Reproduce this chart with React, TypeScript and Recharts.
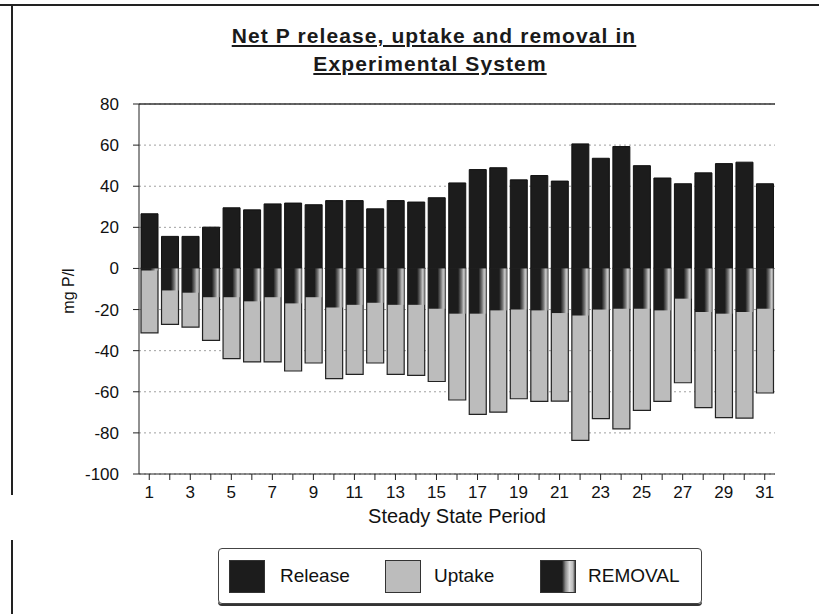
import {
  BarChart,
  Bar,
  XAxis,
  YAxis,
  CartesianGrid,
  ReferenceLine,
} from "recharts";

const periods = [
  "1", "2", "3", "4", "5", "6", "7", "8", "9", "10", "11", "12", "13", "14", "15", "16",
  "17", "18", "19", "20", "21", "22", "23", "24", "25", "26", "27", "28", "29", "30", "31",
];

const release = [
  26.6, 15.6, 15.6, 20.1, 29.5, 28.5, 31.4, 31.8, 31, 33, 33, 29, 33, 32.3, 34.4, 41.6,
  48.1, 49, 43.1, 45.2, 42.5, 60.6, 53.6, 59.3, 50, 44, 41.2, 46.5, 51, 51.7, 41.2,
];

const uptake = [
  -31.3, -27.2, -28.5, -35, -43.9, -45.5, -45.5, -49.9, -46, -53.6, -51.5, -46, -51.5, -52, -55, -64,
  -71, -69.9, -63.4, -64.7, -64.5, -83.6, -73.1, -78, -69, -64.7, -55.6, -67.7, -72.6, -72.8, -60.6,
];

const removal = [
  -1, -10.7, -11.8, -14, -14, -16, -14, -17, -14, -19, -17.7, -16.7, -17.7, -17.7, -19.6, -22,
  -22, -20.4, -20, -20.4, -21.7, -22.9, -20, -19.6, -19.6, -20.4, -14.7, -21.2, -22, -21.2, -19.6,
];

const yTicks = [-100, -80, -60, -40, -20, 0, 20, 40, 60, 80];

const data = periods.map((p, i) => ({
  period: p,
  release: release[i],
  uptake: uptake[i],
  removal: removal[i],
}));

const FONT = "'Liberation Sans', Arial, sans-serif";
const DARK = "#1c1c1c";
const LIGHT = "#bcbcbc";
const REMOVAL_BG = `linear-gradient(to right, ${DARK} 0%, ${DARK} 62%, #8a8a8a 72%, #dcdcdc 84%, #bbb 94%, #444 100%)`;

const legendItems = [
  { label: "Release", bg: DARK, swatchX: 10, textX: 61 },
  { label: "Uptake", bg: LIGHT, swatchX: 166, textX: 215 },
  { label: "REMOVAL", bg: REMOVAL_BG, swatchX: 321, textX: 369 },
];

function ChartLegend() {
  return (
    <div
      style={{
        position: "absolute",
        left: 218,
        top: 548,
        width: 484,
        height: 56,
        border: "1px solid #444",
        borderRadius: 4,
        boxShadow: "0 2px 0 #333",
        boxSizing: "border-box",
        fontFamily: FONT,
        fontSize: 19,
        color: "#111",
      }}
    >
      {legendItems.map((it) => (
        <div key={it.label}>
          <div
            style={{
              position: "absolute",
              left: it.swatchX,
              top: 11,
              width: 36,
              height: 33,
              background: it.bg,
              border: "1px solid #333",
              boxSizing: "border-box",
            }}
          />
          <div style={{ position: "absolute", left: it.textX, top: 15, lineHeight: "24px" }}>
            {it.label}
          </div>
        </div>
      ))}
    </div>
  );
}

export default function App() {
  return (
    <div
      style={{
        position: "absolute",
        left: 0,
        top: 0,
        width: 819,
        height: 614,
        background: "#fff",
        fontFamily: FONT,
      }}
    >
      <div style={{ position: "absolute", left: 0, top: 4, width: 819, height: 2, background: "#222" }} />
      <div style={{ position: "absolute", left: 11, top: 5, width: 2, height: 490, background: "#222" }} />
      <div style={{ position: "absolute", left: 11, top: 540, width: 2, height: 74, background: "#222" }} />
      <div
        style={{
          position: "absolute",
          left: 0,
          top: 22,
          width: 868,
          textAlign: "center",
          fontSize: 21,
          fontWeight: "bold",
          letterSpacing: 1.1,
          lineHeight: "28px",
          textDecoration: "underline",
          color: "#1a1a1a",
        }}
      >
        <div>Net P release, uptake and removal in</div>
        <div style={{ marginLeft: -8 }}>Experimental System</div>
      </div>
      <BarChart
        width={819}
        height={614}
        data={data}
        margin={{ top: 104, right: 44, bottom: 110, left: 49 }}
        barSize={17}
        barGap={-17}
        style={{ position: "absolute", left: 0, top: 0 }}
      >
        <defs>
          <linearGradient id="removalFill" x1="0" y1="0" x2="1" y2="0">
            <stop offset="0%" stopColor={DARK} />
            <stop offset="55%" stopColor={DARK} />
            <stop offset="75%" stopColor="#777" />
            <stop offset="88%" stopColor="#c8c8c8" />
            <stop offset="100%" stopColor="#888" />
          </linearGradient>
        </defs>
        <CartesianGrid vertical={false} stroke="#a0a0a0" strokeDasharray="2 3" />
        <XAxis
          dataKey="period"
          interval={0}
          height={30}
          tickLine={{ stroke: "#222" }}
          axisLine={{ stroke: "#222" }}
          tickSize={6}
          tickMargin={6}
          tick={{ fill: "#111", fontSize: 17, fontFamily: FONT }}
          tickFormatter={(v: string, i: number) => (i % 2 === 0 ? v : "")}
          label={{
            value: "Steady State Period",
            position: "bottom",
            offset: 5,
            fill: "#111",
            fontSize: 20,
            fontFamily: FONT,
          }}
        />
        <YAxis
          width={90}
          domain={[-100, 80]}
          ticks={yTicks}
          interval={0}
          tickLine={{ stroke: "#222" }}
          axisLine={{ stroke: "#222" }}
          tickSize={6}
          tickMargin={14}
          tick={{ fill: "#111", fontSize: 17, fontFamily: FONT }}
          label={{
            content: ({ viewBox }: any) => (
              <text
                x={0}
                y={0}
                transform={`translate(${viewBox.x + 19}, ${viewBox.y + 187}) rotate(-90)`}
                textAnchor="middle"
                dominantBaseline="central"
                fill="#111"
                fontSize={16}
                fontFamily={FONT}
              >
                mg P/l
              </text>
            ),
          }}
        />
        <YAxis
          yAxisId="frame"
          orientation="right"
          width={0}
          tick={false}
          tickLine={false}
          axisLine={{ stroke: "#999" }}
        />
        <ReferenceLine y={80} stroke="#333" strokeWidth={1.5} />
        <Bar dataKey="release" name="Release" fill={DARK} stroke="#111" isAnimationActive={false} />
        <Bar dataKey="uptake" name="Uptake" fill={LIGHT} stroke="#222" strokeWidth={1.2} isAnimationActive={false} />
        <Bar dataKey="removal" name="REMOVAL" fill="url(#removalFill)" isAnimationActive={false} />
      </BarChart>
      <ChartLegend />
    </div>
  );
}
